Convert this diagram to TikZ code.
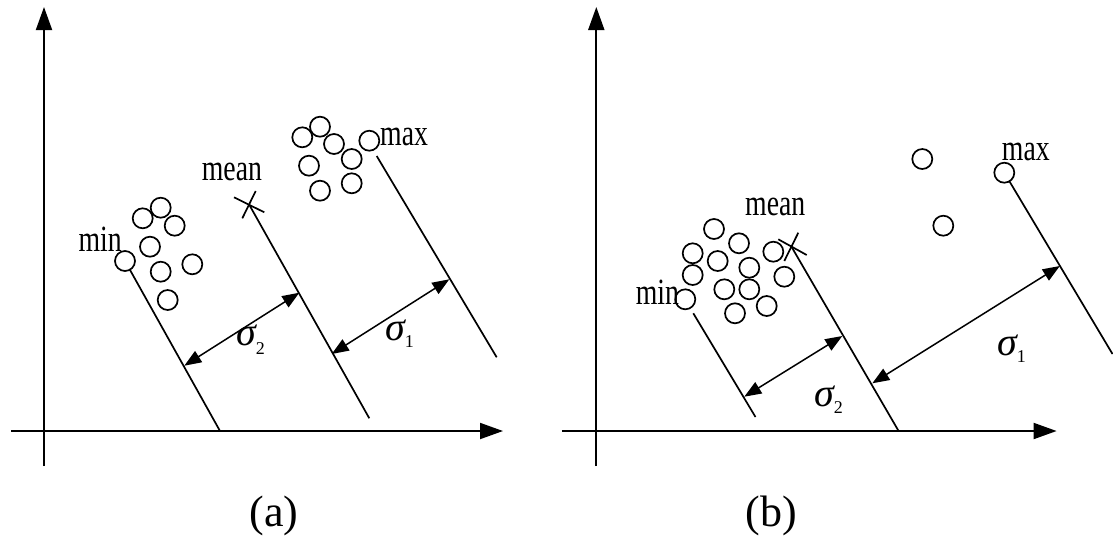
\documentclass[tikz,border=0pt]{standalone}
\usepackage{fontspec}
\usepackage{graphicx}
\setmainfont{Liberation Serif}
\usetikzlibrary{arrows.meta}
\tikzset{
  pt/.style={circle, draw, line width=1.7pt, minimum size=20pt, inner sep=0pt, outer sep=0pt},
  ln/.style={line width=1.7pt},
  axisline/.style={line width=1.9pt, -{Triangle[length=23pt,width=16pt]}},
  dimline/.style={line width=1.5pt, {Triangle[length=17pt,width=13pt]}-{Triangle[length=17pt,width=13pt]}},
  lbl/.style={anchor=base west, inner sep=0pt, font=\fontsize{37}{40}\selectfont},
  captxt/.style={anchor=base, inner sep=0pt, font=\fontsize{44}{48}\selectfont},
  sig/.style={anchor=base west, inner sep=0pt, font=\fontsize{40}{42}\selectfont\itshape},
}
\newcommand{\narrowtxt}[1]{\scalebox{0.75}[1]{#1}}
\newcommand{\sigsub}[2]{σ\raisebox{-#2pt}{\fontsize{18}{18}\selectfont\upshape #1}}
\begin{document}
\begin{tikzpicture}[x=1pt,y=-1pt]
\fill[white] (0,0) rectangle (1113,539);
\useasboundingbox (0,0) rectangle (1113,539);

% ================= panel (a) =================
\coordinate (ayb) at (44,466);
\coordinate (ayt) at (44,7);
\coordinate (axl) at (11,431);
\coordinate (axr) at (503,431);
\draw[axisline] (ayb) -- (ayt);
\draw[axisline] (axl) -- (axr);

% min cluster
\node[pt] (ac1) at (142.7,218.3) {};
\node[pt] (ac2) at (160.7,207.7) {};
\node[pt] (ac3) at (174.7,225.7) {};
\node[pt] (ac4) at (150,246.7) {};
\node[pt] (amin) at (125,261) {};
\node[pt] (ac6) at (160.7,271.7) {};
\node[pt] (ac7) at (192.3,264.3) {};
\node[pt] (ac8) at (167.7,300) {};
% max cluster
\node[pt] (ad1) at (302.3,137.3) {};
\node[pt] (ad2) at (320,126.7) {};
\node[pt] (ad3) at (334,144) {};
\node[pt] (ad4) at (351.7,159) {};
\node[pt] (amax) at (369.3,140.7) {};
\node[pt] (ad6) at (309,165.7) {};
\node[pt] (ad7) at (320,190.7) {};
\node[pt] (ad8) at (351.7,183.3) {};

% mean cross
\coordinate (amean) at (249,204.3);
\coordinate (ax1a) at (234,197.3);
\coordinate (ax1b) at (264.3,212.3);
\coordinate (ax2a) at (255.7,191);
\coordinate (ax2b) at (242.3,218.3);
\draw[ln] (ax1a) -- (ax1b);
\draw[ln] (ax2a) -- (ax2b);

% projection lines
\coordinate (a1e) at (220,431);
\coordinate (a2e) at (369.3,418.3);
\coordinate (a3s) at (376.7,156);
\coordinate (a3e) at (496.7,357.3);
\draw[ln] (amin) -- (a1e);
\draw[ln] (amean) -- (a2e);
\draw[ln] (a3s) -- (a3e);

% sigma arrows
\coordinate (as2l) at (184.3,365.7);
\coordinate (as2r) at (299.3,292.7);
\coordinate (as1l) at (331.7,354);
\coordinate (as1r) at (449.3,279.3);
\draw[dimline] (as2l) -- (as2r);
\draw[dimline] (as1l) -- (as1r);

% labels
\node[lbl] (amintxt) at (78.3,251.7) {\narrowtxt{min}};
\node[lbl] (ameantxt) at (201.7,180) {\narrowtxt{mean}};
\node[lbl] (amaxtxt) at (380,145) {\narrowtxt{max}};
\node[sig] (asig2) at (236,345) {\sigsub{2}{9}};
\node[sig] (asig1) at (385,340.7) {\sigsub{1}{7}};
\node[captxt] (acap) at (274,526) {(a)};

% ================= panel (b) =================
\coordinate (byb) at (596.3,466);
\coordinate (byt) at (596.3,7);
\coordinate (bxl) at (561.8,431);
\coordinate (bxr) at (1056.6,431);
\draw[axisline] (byb) -- (byt);
\draw[axisline] (bxl) -- (bxr);

\node[pt] (bc1) at (714,229) {};
\node[pt] (bc2) at (739,243.3) {};
\node[pt] (bc3) at (692.7,253.3) {};
\node[pt] (bc4) at (717.7,261) {};
\node[pt] (bc5) at (773.3,251.7) {};
\node[pt] (bc6) at (692.7,275) {};
\node[pt] (bc7) at (749.3,267.7) {};
\node[pt] (bc8) at (784.3,276.7) {};
\node[pt] (bc9) at (724.3,289.3) {};
\node[pt] (bc10) at (749.3,289.3) {};
\node[pt] (bmin) at (685.3,299.3) {};
\node[pt] (bc12) at (735,313.3) {};
\node[pt] (bc13) at (766.7,306) {};
\node[pt] (bo1) at (922.3,159) {};
\node[pt] (bo2) at (943.3,225.7) {};
\node[pt] (bmax) at (1004.3,172.7) {};

% mean cross
\coordinate (bmean) at (791.4,246.6);
\coordinate (bx1a) at (778.3,239.3);
\coordinate (bx1b) at (806.7,255);
\coordinate (bx2a) at (798.3,232.7);
\coordinate (bx2b) at (784.3,261);
\draw[ln] (bx1a) -- (bx1b);
\draw[ln] (bx2a) -- (bx2b);

% projection lines
\coordinate (b1s) at (693.3,313.3);
\coordinate (b1e) at (755.5,417);
\coordinate (b2e) at (898.6,431);
\coordinate (b3e) at (1112.5,354);
\draw[ln] (b1s) -- (b1e);
\draw[ln] (bmean) -- (b2e);
\draw[ln] (bmax) -- (b3e);

% sigma arrows
\coordinate (bs2l) at (744.3,396.7);
\coordinate (bs2r) at (842.3,336);
\coordinate (bs1l) at (872.3,383.3);
\coordinate (bs1r) at (1059.8,266);
\draw[dimline] (bs2l) -- (bs2r);
\draw[dimline] (bs1l) -- (bs1r);

% labels
\node[lbl] (bmintxt) at (635.7,304) {\narrowtxt{min}};
\node[lbl] (bmeantxt) at (745,215) {\narrowtxt{mean}};
\node[lbl] (bmaxtxt) at (1001.7,160) {\narrowtxt{max}};
\node[sig] (bsig2) at (814,406.7) {\sigsub{2}{7}};
\node[sig] (bsig1) at (997,355) {\sigsub{1}{7}};
\node[captxt] (bcap) at (771.6,526) {(b)};
\end{tikzpicture}
\end{document}
